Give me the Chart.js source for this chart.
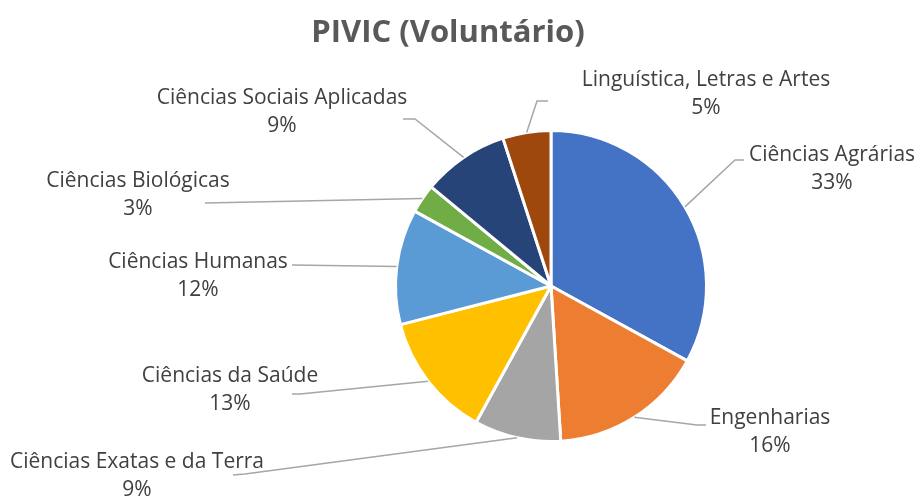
<!DOCTYPE html>
<html>
<head>
<meta charset="utf-8">
<script src="https://cdn.jsdelivr.net/npm/chart.js@4.4.1/dist/chart.umd.min.js"></script>
<style>
html, body { margin: 0; padding: 0; background: #fff; }
#wrap { width: 918px; height: 502px; }
</style>
</head>
<body>
<div id="wrap"><canvas id="myChart" width="918" height="502"></canvas></div>
<script>
var chartTitle = 'PIVIC (Voluntário)';
var categories = ['Ciências Agrárias', 'Engenharias', 'Ciências Exatas e da Terra', 'Ciências da Saúde',
                  'Ciências Humanas', 'Ciências Biológicas', 'Ciências Sociais Aplicadas', 'Linguística, Letras e Artes'];
var shares = [33, 16, 9, 13, 12, 3, 9, 5];
var sliceColors = ['#4472C4', '#ED7D31', '#A5A5A5', '#FFC000', '#5B9BD5', '#70AD47', '#264478', '#9E480E'];

// label placement, relative to the pie centre: text centre + leader path (elbow/end points)
var labelLayout = [
    { tx: 281, ty: -131, path: [[184, -126], [193, -126]] },
    { tx: 219, ty: 132, path: [[146, 139], [155, 139]] },
    { tx: -414, ty: 176, path: [[-306, 188], [-318, 189]] },
    { tx: -321, ty: 90, path: [[-251, 108], [-259, 108]] },
    { tx: -353, ty: -24, path: [[-259, -21]] },
    { tx: -413, ty: -105, path: [[-346, -83]] },
    { tx: -269, ty: -188, path: [[-136, -167], [-148, -167]] },
    { tx: 155, ty: -206, path: [[-14, -185], [-3, -185]] }
];

var FONT = '"Open Sans", Lato, sans-serif';

function pctText(i) {
    var total = shares.reduce(function (a, b) { return a + b; }, 0);
    return Math.round(shares[i] / total * 100) + '%';
}

/* draw title, leader lines and category labels */
const pieLabels = {
    id: 'pieLabels',
    afterDraw(chart) {
        const ctx = chart.ctx;
        const meta = chart.getDatasetMeta(0);
        ctx.save();
        // title
        ctx.fillStyle = '#595959';
        ctx.font = 'bold 31px ' + FONT;
        ctx.textAlign = 'center';
        ctx.textBaseline = 'middle';
        ctx.fillText(chartTitle, 448, 33);

        meta.data.forEach(function (arc, i) {
            const p = arc.getProps(['x', 'y', 'startAngle', 'endAngle', 'outerRadius'], true);
            const mid = (p.startAngle + p.endAngle) / 2;
            const lay = labelLayout[i];
            ctx.strokeStyle = '#A6A6A6';
            ctx.lineWidth = 1.5;
            ctx.beginPath();
            ctx.moveTo(p.x + Math.cos(mid) * p.outerRadius, p.y + Math.sin(mid) * p.outerRadius);
            lay.path.forEach(function (pt) { ctx.lineTo(p.x + pt[0], p.y + pt[1]); });
            ctx.stroke();

            ctx.fillStyle = '#404040';
            ctx.font = '21px ' + FONT;
            ctx.textAlign = 'center';
            ctx.textBaseline = 'middle';
            ctx.fillText(categories[i], p.x + lay.tx, p.y + lay.ty);
            ctx.fillText(pctText(i), p.x + lay.tx, p.y + lay.ty + 28);
        });
        ctx.restore();
    }
};

const config = {
    type: 'pie',
    data: {
        labels: categories,
        datasets: [{
            data: shares,
            backgroundColor: sliceColors,
            borderColor: '#FFFFFF',
            borderWidth: 3
        }]
    },
    plugins: [pieLabels],
    options: {
        responsive: false,
        animation: false,
        layout: { padding: { top: 129, bottom: 59, left: 394, right: 210 } },
        plugins: {
            legend: { display: false },
            tooltip: { enabled: false },
            title: { display: false }
        }
    }
};

var myChart = new Chart(document.getElementById('myChart'), config);
</script>
</body>
</html>
